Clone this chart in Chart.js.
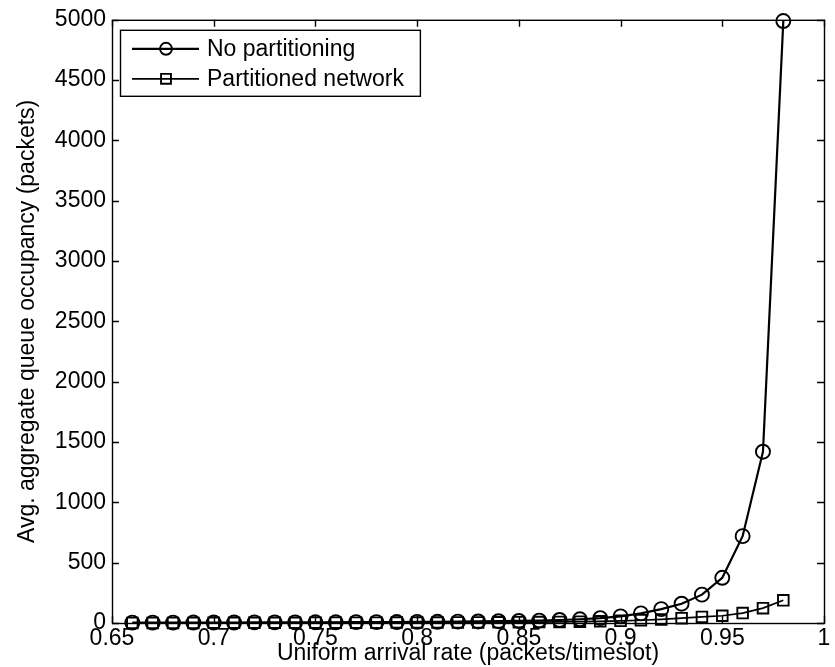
<!DOCTYPE html>
<html>
<head>
<meta charset="utf-8">
<script src="https://cdn.jsdelivr.net/npm/chart.js@4/dist/chart.umd.min.js"></script>
<style>
    html, body { margin: 0; padding: 0; background: #fff; }
    #wrap { width: 835px; height: 667px; }
</style>
</head>
<body>
<div id="wrap"><canvas id="queueChart" width="835" height="667"></canvas></div>
<script>
// arrival rates (packets/timeslot)
const arrivalRates = [0.66, 0.67, 0.68, 0.69, 0.70, 0.71, 0.72, 0.73, 0.74, 0.75, 0.76,
    0.77, 0.78, 0.79, 0.80, 0.81, 0.82, 0.83, 0.84, 0.85, 0.86, 0.87, 0.88,
    0.89, 0.90, 0.91, 0.92, 0.93, 0.94, 0.95, 0.96, 0.97, 0.98];

// average aggregate queue occupancy (packets)
const noPartitioning = [3, 3, 3, 4, 4, 4, 5, 5, 5, 6, 6,
    7, 7, 8, 9, 10, 11, 13, 15, 17, 20, 25, 31,
    40, 55, 80, 115, 160, 235, 375, 720, 1420, 4990];
const partitioned = [1, 1, 1, 1, 2, 2, 2, 2, 2, 3, 3,
    3, 3, 4, 4, 4, 5, 5, 6, 7, 8, 9, 11,
    14, 18, 23, 30, 40, 50, 60, 82, 123, 188];

const xTicks = [0.65, 0.7, 0.75, 0.8, 0.85, 0.9, 0.95, 1];
const yTicks = [0, 500, 1000, 1500, 2000, 2500, 3000, 3500, 4000, 4500, 5000];

const FONT = "'Liberation Sans', Arial, Helvetica, sans-serif";
const FONT_SIZE = 23;

function toPoints(xs, ys) {
    return xs.map((x, i) => ({ x: x, y: ys[i] }));
}

// frame round the plot area with inward ticks on all four sides
const boxTicks = {
    id: 'boxTicks',
    afterDatasetsDraw(chart) {
        const { ctx, chartArea: a, scales } = chart;
        const len = 7;
        ctx.save();
        ctx.strokeStyle = '#000';
        ctx.lineWidth = 1.4;
        ctx.strokeRect(a.left + 0.5, a.top + 0.5, a.right - a.left, a.bottom - a.top);
        ctx.beginPath();
        xTicks.forEach(v => {
            const px = Math.round(scales.x.getPixelForValue(v)) + 0.5;
            ctx.moveTo(px, a.bottom); ctx.lineTo(px, a.bottom - len);
            ctx.moveTo(px, a.top); ctx.lineTo(px, a.top + len);
        });
        yTicks.forEach(v => {
            const py = Math.round(scales.y.getPixelForValue(v)) + 0.5;
            ctx.moveTo(a.left, py); ctx.lineTo(a.left + len, py);
            ctx.moveTo(a.right, py); ctx.lineTo(a.right - len, py);
        });
        ctx.stroke();
        ctx.restore();
    }
};

// legend box in the upper left corner
const insetLegend = {
    id: 'insetLegend',
    afterDraw(chart) {
        const { ctx, chartArea: a } = chart;
        ctx.save();
        ctx.font = FONT_SIZE + 'px ' + FONT;
        const textW = Math.max(...chart.data.datasets.map(ds => ctx.measureText(ds.label).width));
        const x0 = a.left + 8, y0 = a.top + 10, w = 95 + textW + 8, h = 66;
        ctx.fillStyle = '#fff';
        ctx.fillRect(x0, y0, w, h);
        ctx.strokeStyle = '#000';
        ctx.lineWidth = 1.4;
        ctx.strokeRect(x0 + 0.5, y0 + 0.5, w, h);
        ctx.textBaseline = 'middle';
        chart.data.datasets.forEach((ds, i) => {
            const y = y0 + 19 + i * 30;
            ctx.strokeStyle = '#000';
            ctx.lineWidth = ds.borderWidth;
            ctx.beginPath();
            ctx.moveTo(x0 + 12, y);
            ctx.lineTo(x0 + 79, y);
            ctx.stroke();
            ctx.lineWidth = ds.pointBorderWidth;
            ctx.fillStyle = 'rgba(0,0,0,0)';
            Chart.helpers.drawPoint(ctx, {
                pointStyle: ds.pointStyle,
                radius: ds.pointStyle === 'rect' ? 7 : 6,
                rotation: 0,
                borderWidth: ds.pointBorderWidth
            }, x0 + 46, y);
            ctx.fillStyle = '#000';
            ctx.fillText(ds.label, x0 + 87, y + 1);
        });
        ctx.restore();
    }
};

const ctx = document.getElementById('queueChart').getContext('2d');
new Chart(ctx, {
    type: 'line',
    data: {
        datasets: [
            {
                label: 'No partitioning',
                data: toPoints(arrivalRates, noPartitioning),
                borderColor: '#000',
                borderWidth: 2.2,
                pointStyle: 'circle',
                pointRadius: 7,
                pointBorderWidth: 1.9,
                pointBorderColor: '#000',
                pointBackgroundColor: 'rgba(0,0,0,0)',
                tension: 0,
                clip: false
            },
            {
                label: 'Partitioned network',
                data: toPoints(arrivalRates, partitioned),
                borderColor: '#000',
                borderWidth: 1.7,
                pointStyle: 'rect',
                pointRadius: 7.5,
                pointBorderWidth: 1.9,
                pointBorderColor: '#000',
                pointBackgroundColor: 'rgba(0,0,0,0)',
                tension: 0,
                clip: false
            }
        ]
    },
    options: {
        responsive: false,
        animation: false,
        layout: { padding: { left: 0, right: 11, top: 12, bottom: 0 } },
        plugins: {
            legend: { display: false },
            tooltip: { enabled: false }
        },
        scales: {
            x: {
                type: 'linear',
                min: 0.65,
                max: 1,
                afterFit(scale) { scale.height = 44; },
                afterBuildTicks(scale) { scale.ticks = xTicks.map(v => ({ value: v })); },
                grid: { display: false, drawTicks: false },
                border: { display: false },
                ticks: {
                    color: '#000',
                    padding: 2,
                    maxRotation: 0,
                    font: { family: FONT, size: FONT_SIZE },
                    callback: v => String(Number(v.toFixed(2)))
                },
                title: {
                    display: true,
                    text: 'Uniform arrival rate (packets/timeslot)',
                    color: '#000',
                    font: { family: FONT, size: FONT_SIZE },
                    padding: { top: 0, bottom: 0 }
                }
            },
            y: {
                min: 0,
                max: 5000,
                afterFit(scale) { scale.width = 112; },
                afterBuildTicks(scale) { scale.ticks = yTicks.map(v => ({ value: v })); },
                grid: { display: false, drawTicks: false },
                border: { display: false },
                ticks: {
                    color: '#000',
                    padding: 6,
                    font: { family: FONT, size: FONT_SIZE },
                    callback: v => String(v)
                },
                title: {
                    display: true,
                    text: 'Avg. aggregate queue occupancy (packets)',
                    color: '#000',
                    font: { family: FONT, size: FONT_SIZE },
                    padding: { top: 14, bottom: 0 }
                }
            }
        }
    },
    plugins: [boxTicks, insetLegend]
});
</script>
</body>
</html>
